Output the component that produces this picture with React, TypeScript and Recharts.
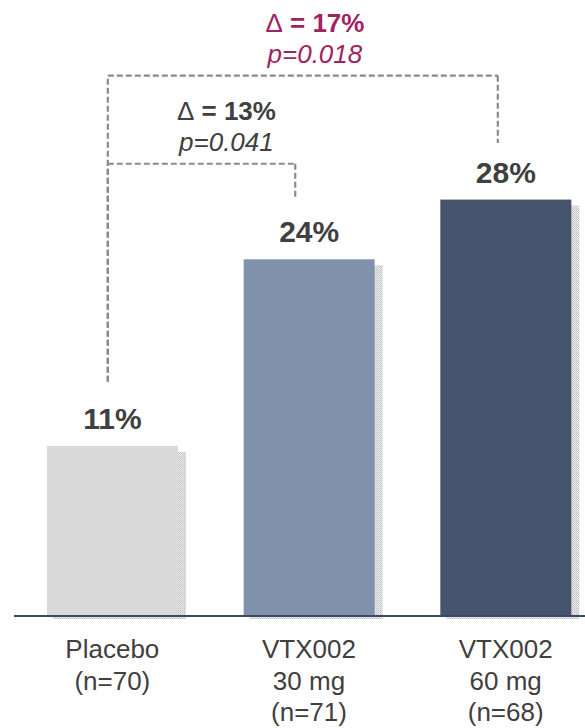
import { BarChart, Bar, XAxis, YAxis, Cell, LabelList, ReferenceLine, ReferenceDot } from 'recharts'

// response rate by arm (%), bars drawn from exact rates, labels rounded
const ARMS = ['Placebo', 'VTX002 30 mg', 'VTX002 60 mg']
const ARM_TICK_LINES = [
  ['Placebo', '(n=70)'],
  ['VTX002', '30 mg', '(n=71)'],
  ['VTX002', '60 mg', '(n=68)'],
]
const RESPONSE_RATE = [11.4, 23.9, 27.9]
const RATE_LABELS = ['11%', '24%', '28%']

// comparisons vs placebo
const COMPARE_FROM = [0, 0]
const COMPARE_TO = [1, 2]
const COMPARE_LEVEL = [30.3, 36.2]
const COMPARE_LEG_END = [27.9, 31.7]
const DELTA_LABELS = ['Δ = 13%', 'Δ = 17%']
const P_LABELS = ['p=0.041', 'p=0.018']
const LABEL_X = [0.58, 1.03]

const BAR_COLORS = ['#d9d9d9', '#8091ac', '#45536c']
const COMPARE_COLORS = ['#404040', '#a0235f']
const FONT = '"Liberation Sans", Arial, sans-serif'
const LEFT_LEG_END = 15.7
const LEG_SHIFT = [-0.023, -0.07, -0.04]

const data = ARMS.map((name, i) => ({ x: i, name, rate: RESPONSE_RATE[i], label: RATE_LABELS[i] }))

function ShadowBar(props: any) {
  const { x, y, width, height, fill } = props
  if (!width || !height) return null
  return (
    <g>
      <rect x={x + 6} y={y + 6} width={width + 2} height={height - 3} fill="url(#shadowDots)" />
      <rect x={x} y={y} width={width} height={height} fill={fill} />
    </g>
  )
}

function ArmTick({ x, y, payload }: any) {
  const lines = ARM_TICK_LINES[payload.value] ?? []
  return (
    <text x={x} y={y} textAnchor="middle" fill="#404040" fontSize={26} fontFamily={FONT}>
      {lines.map((l, i) => (
        <tspan key={i} x={x} dy={i === 0 ? 34 : 31.5}>{l}</tspan>
      ))}
    </text>
  )
}

const dash = { stroke: '#8a8a8a', strokeWidth: 2.2, strokeDasharray: '6 3' }

export default function App() {
  return (
    <div style={{ position: 'absolute', left: 0, top: 0, width: 585, height: 728, overflow: 'hidden', background: '#fff' }}>
      <BarChart width={610} height={728} data={data} margin={{ top: 19, right: 6, bottom: 0, left: 14 }}>
        <defs>
          <pattern id="shadowDots" width="2" height="2" patternUnits="userSpaceOnUse">
            <rect width="2" height="2" fill="#ececec" />
            <rect width="1" height="1" fill="#bdbdbd" />
            <rect x="1" y="1" width="1" height="1" fill="#cfcfcf" />
          </pattern>
        </defs>
        <XAxis
          type="number"
          dataKey="x"
          domain={[-0.5, 2.5]}
          ticks={[0, 1, 2]}
          interval={0}
          height={112}
          tickLine={false}
          axisLine={{ stroke: '#3a4a62', strokeWidth: 2 }}
          tick={<ArmTick />}
        />
        <YAxis hide width={0} domain={[0, 40]} />
        <Bar dataKey="rate" barSize={131} isAnimationActive={false} shape={<ShadowBar />}>
          {data.map((_, i) => (
            <Cell key={i} fill={BAR_COLORS[i]} />
          ))}
          <LabelList
            dataKey="label"
            content={(p: any) => (
              <text x={p.x + p.width / 2} y={p.y - 17} textAnchor="middle" fill="#404040" fontSize={30} fontWeight="bold" fontFamily={FONT}>
                {p.value}
              </text>
            )}
          />
        </Bar>
        {COMPARE_FROM.map((from, i) => {
          const x1 = from + LEG_SHIFT[from]
          const x2 = COMPARE_TO[i] + LEG_SHIFT[COMPARE_TO[i]]
          const lvl = COMPARE_LEVEL[i]
          return [
            <ReferenceLine key={`l${i}`} segment={[{ x: x1, y: LEFT_LEG_END }, { x: x1, y: lvl }]} {...dash} ifOverflow="visible" />,
            <ReferenceLine key={`t${i}`} segment={[{ x: x1, y: lvl }, { x: x2, y: lvl }]} {...dash} ifOverflow="visible" />,
            <ReferenceLine key={`r${i}`} segment={[{ x: x2, y: lvl }, { x: x2, y: COMPARE_LEG_END[i] }]} {...dash} ifOverflow="visible" />,
            <ReferenceDot
              key={`d${i}`}
              x={LABEL_X[i]}
              y={lvl}
              r={0}
              ifOverflow="visible"
              shape={(p: any) => (
                <g fill={COMPARE_COLORS[i]} fontFamily={FONT} fontSize={26}>
                  <text x={p.cx} y={p.cy - 44} textAnchor="middle">
                    <tspan>Δ</tspan>
                    <tspan fontWeight="bold">{DELTA_LABELS[i].slice(1)}</tspan>
                  </text>
                  <text x={p.cx} y={p.cy - 13} textAnchor="middle" fontStyle="italic">{P_LABELS[i]}</text>
                </g>
              )}
            />,
          ]
        })}
      </BarChart>
    </div>
  )
}
